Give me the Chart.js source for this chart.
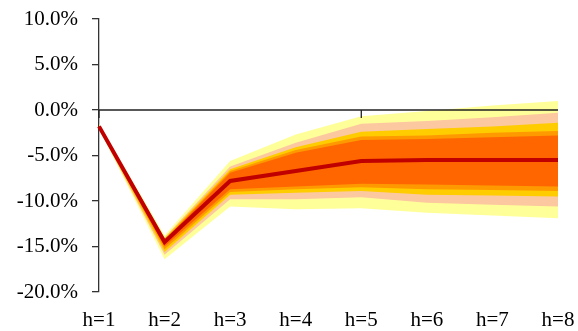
<!DOCTYPE html>
<html>
<head>
<meta charset="utf-8">
<script src="https://cdn.jsdelivr.net/npm/chart.js@4"></script>
<style>
  html, body { margin: 0; padding: 0; background: #fff; }
  #wrap { width: 578px; height: 331px; }
</style>
</head>
<body>
<div id="wrap"><canvas id="c" width="578" height="331"></canvas></div>
<script>
// ---- data (percent) ----
const categories  = ['h=1','h=2','h=3','h=4','h=5','h=6','h=7','h=8'];
const median      = [-1.8, -14.5, -7.8, -6.7, -5.6, -5.5, -5.5, -5.5];
const yellowUpper = [-1.55, -13.8, -5.6, -2.7, -0.7, -0.1, 0.5, 1.0];
const peachUpper  = [-1.6, -14.0, -6.2, -3.6, -1.5, -1.2, -0.8, -0.3];
const goldUpper   = [-1.65, -14.1, -6.5, -4.1, -2.4, -2.1, -1.8, -1.4];
const amberUpper  = [-1.7, -14.2, -6.7, -4.4, -2.9, -2.8, -2.5, -2.3];
const orangeUpper = [-1.75, -14.3, -6.9, -4.7, -3.3, -3.2, -3.0, -2.8];
const orangeLower = [-1.9, -15.0, -8.7, -8.4, -8.1, -8.2, -8.3, -8.4];
const amberLower  = [-1.95, -15.3, -9.0, -8.7, -8.5, -8.7, -8.8, -8.9];
const goldLower   = [-2.0, -15.6, -9.3, -9.1, -8.9, -9.3, -9.4, -9.5];
const peachLower  = [-2.05, -15.9, -9.8, -9.8, -9.6, -10.2, -10.4, -10.6];
const yellowLower = [-2.1, -16.4, -10.6, -10.9, -10.8, -11.3, -11.6, -11.9];
const yTicks      = [10, 5, 0, -5, -10, -15, -20];
const zeroAxisTickEvery = 4;

const bandStyle = (data, color) => ({
  data, fill: '+1', backgroundColor: color, borderColor: 'transparent',
  borderWidth: 0, pointRadius: 0, tension: 0
});
const edgeStyle = (data) => ({
  data, fill: false, borderColor: 'transparent', borderWidth: 0, pointRadius: 0, tension: 0
});

const datasets = [
  { data: median, borderColor: '#C00000', borderWidth: 4, pointRadius: 0, fill: false, tension: 0 },
  bandStyle(orangeUpper, '#FF6600'), edgeStyle(orangeLower),
  bandStyle(amberUpper, '#FF9900'),  edgeStyle(amberLower),
  bandStyle(goldUpper, '#FFCC00'),   edgeStyle(goldLower),
  bandStyle(peachUpper, '#FCC8A0'),  edgeStyle(peachLower),
  bandStyle(yellowUpper, '#FFFF99'), edgeStyle(yellowLower)
];

const zeroLine = {
  id: 'zeroLine',
  afterDatasetsDraw(chart) {
    const { ctx, chartArea, scales } = chart;
    const y0 = scales.y.getPixelForValue(0);
    ctx.save();
    ctx.strokeStyle = '#222';
    ctx.lineWidth = 1.3;
    ctx.beginPath();
    ctx.moveTo(chartArea.left, y0);
    ctx.lineTo(chartArea.right, y0);
    for (let i = 0; i < categories.length; i += zeroAxisTickEvery) {
      const x = scales.x.getPixelForValue(i);
      ctx.moveTo(x, y0);
      ctx.lineTo(x, y0 + 8);
    }
    ctx.stroke();
    ctx.restore();
  }
};

new Chart(document.getElementById('c'), {
  type: 'line',
  data: { labels: categories, datasets },
  plugins: [zeroLine],
  options: {
    responsive: false,
    animation: false,
    devicePixelRatio: 1,
    layout: { padding: { top: 19, right: 20, bottom: 0, left: 0 } },
    plugins: { legend: { display: false }, tooltip: { enabled: false } },
    scales: {
      x: {
        type: 'category',
        offset: false,
        grid: { display: false },
        border: { display: false },
        ticks: { color: '#000', padding: 8, maxRotation: 0, autoSkip: false,
                 font: { family: 'Liberation Serif', size: 21 } },
        afterFit: (s) => { s.height = 39; s.paddingLeft = 0; s.paddingRight = 0; }
      },
      y: {
        min: -20, max: 10,
        afterBuildTicks: (s) => { s.ticks = yTicks.map(v => ({ value: v })); },
        grid: { drawOnChartArea: false, drawTicks: true, tickLength: 7, tickColor: '#333', lineWidth: 1.3 },
        border: { display: true, color: '#333', width: 1.3 },
        ticks: { color: '#000', padding: 14,
                 font: { family: 'Liberation Serif', size: 21 },
                 callback: (v) => Number(v).toFixed(1) + '%' },
        afterFit: (s) => { s.width = 99; s.paddingTop = 0; s.paddingBottom = 0; }
      }
    }
  }
});
</script>
</body>
</html>
